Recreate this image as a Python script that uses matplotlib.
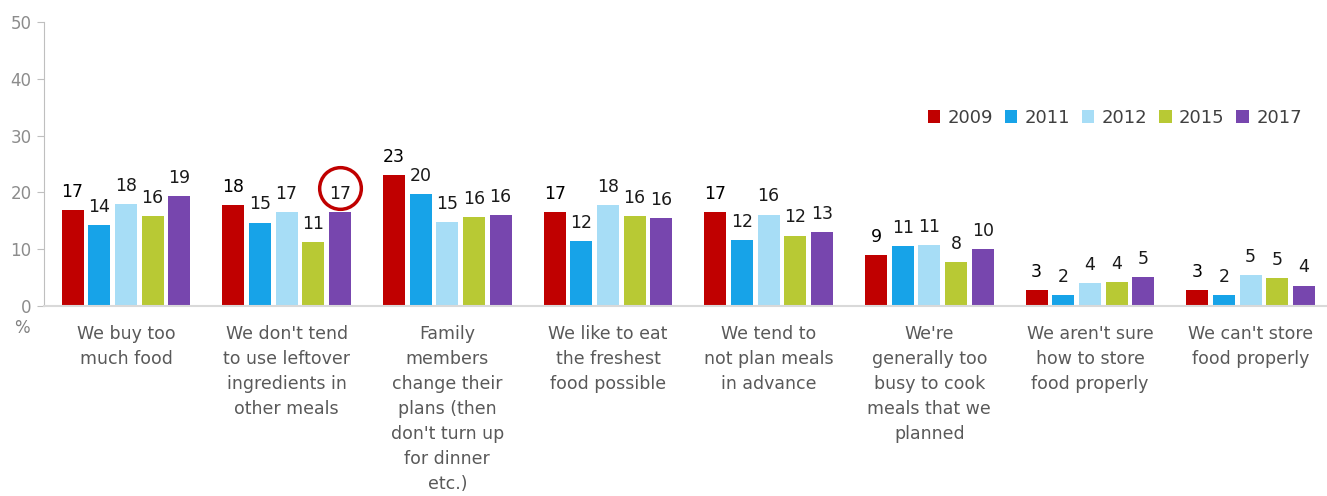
import matplotlib
matplotlib.use("Agg")
import matplotlib.pyplot as plt
import numpy as np

categories = [
    "We buy too\nmuch food",
    "We don't tend\nto use leftover\ningredients in\nother meals",
    "Family\nmembers\nchange their\nplans (then\ndon't turn up\nfor dinner\netc.)",
    "We like to eat\nthe freshest\nfood possible",
    "We tend to\nnot plan meals\nin advance",
    "We're\ngenerally too\nbusy to cook\nmeals that we\nplanned",
    "We aren't sure\nhow to store\nfood properly",
    "We can't store\nfood properly",
]
years = ["2009", "2011", "2012", "2015", "2017"]
values = {
    "2009": [16.9, 17.7, 23.1, 16.6, 16.6, 9.0, 2.8, 2.8],
    "2011": [14.2, 14.7, 19.7, 11.4, 11.6, 10.5, 1.9, 1.9],
    "2012": [17.9, 16.6, 14.8, 17.7, 16.1, 10.8, 4.0, 5.5],
    "2015": [15.9, 11.3, 15.6, 15.8, 12.4, 7.7, 4.2, 4.9],
    "2017": [19.35, 16.5, 16.0, 15.5, 13.1, 10.0, 5.1, 3.6],
}
labels = {
    "2009": ["17", "18", "23", "17", "17", "9", "3", "3"],
    "2011": ["14", "15", "20", "12", "12", "11", "2", "2"],
    "2012": ["18", "17", "15", "18", "16", "11", "4", "5"],
    "2015": ["16", "11", "16", "16", "12", "8", "4", "5"],
    "2017": ["19", "17", "16", "16", "13", "10", "5", "4"],
}
colors = {
    "2009": "#C00000",
    "2011": "#17A3E8",
    "2012": "#A7DDF6",
    "2015": "#B8C934",
    "2017": "#7746AE",
}
yticks = [0, 10, 20, 30, 40, 50]

fig = plt.figure(figsize=(13.27, 4.96), dpi=100)
ax = fig.add_axes([44 / 1327, 1 - 306 / 496, 1 - 44 / 1327, (306 - 22) / 496])

x = np.arange(len(categories))
pitch = 0.166
width = 0.137
for i, yr in enumerate(years):
    pos = x + (i - 2) * pitch
    ax.bar(pos, values[yr], width=width, color=colors[yr], label=yr, zorder=2)
    for xi, v, lab in zip(pos, values[yr], labels[yr]):
        ax.text(xi, v + 1.6, lab, ha="center", va="bottom", fontsize=12.5,
                color="#000000" if yr == "2009" else "#1a1a1a", zorder=3)

# highlight circle around 2017 label for second category
cx = x[1] + 2 * pitch
cy = values["2017"][1] + 4.3
ax.plot([cx], [cy], marker="o", markersize=30, markerfacecolor="none",
        markeredgecolor="#C00000", markeredgewidth=2.5, zorder=4, clip_on=False)

ax.set_xlim(-0.51, 7.475)
ax.set_ylim(0, 50)
ax.set_yticks(yticks)
ax.set_yticklabels([str(t) for t in yticks], fontsize=12, color="#8c8c8c")
ax.tick_params(axis="y", length=5, color="#bfbfbf", pad=4)
ax.set_xticks(x)
ax.set_xticklabels(categories, fontsize=12.5, color="#595959", linespacing=1.5)
ax.tick_params(axis="x", length=0, pad=14)

for s in ["top", "right"]:
    ax.spines[s].set_visible(False)
ax.spines["left"].set_color("#bfbfbf")
ax.spines["bottom"].set_color("#d9d9d9")
ax.spines["bottom"].set_linewidth(1.5)

fig.text(22 / 1327, 1 - 328 / 496, "%", fontsize=12, color="#808080", ha="center", va="center")

leg = ax.legend(loc="center right", bbox_to_anchor=(0.993, 0.662), ncol=5, frameon=False,
                fontsize=13, handlelength=0.7, handleheight=0.7, handletextpad=0.4,
                columnspacing=0.65, labelcolor="#404040")

fig.savefig("out.png", dpi=100)
